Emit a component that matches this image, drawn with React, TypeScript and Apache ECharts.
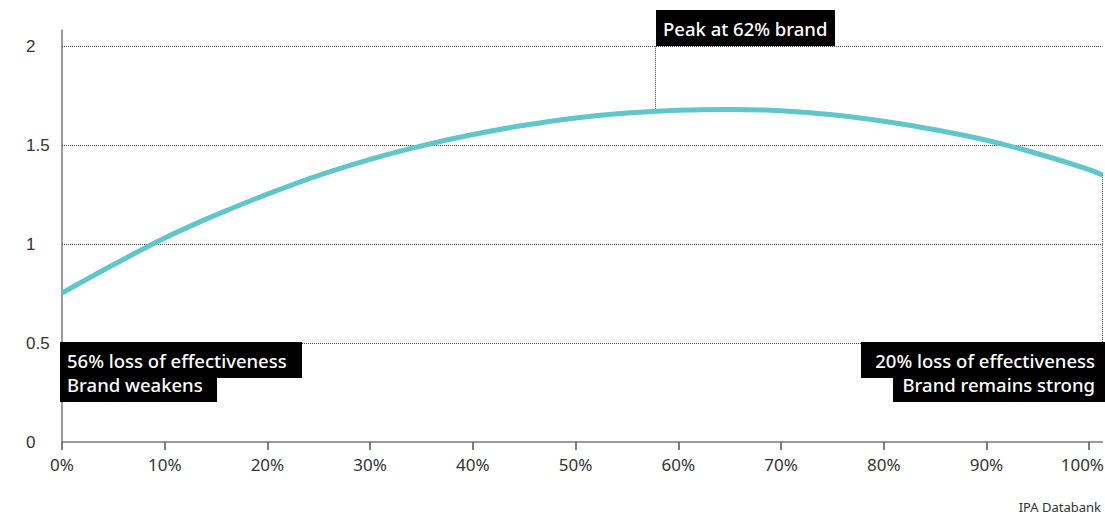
import React, { useEffect, useRef } from "react";
import * as echarts from "echarts";

// Brand share of budget (%) and relative effectiveness
const brandShare = [0, 5, 10, 15, 20, 25, 30, 35, 40, 45, 50, 55, 60, 65, 70, 75, 80, 85, 90, 95, 100, 101.3];
const effectiveness = [0.752, 0.895, 1.03, 1.147, 1.252, 1.347, 1.428, 1.496, 1.553, 1.6, 1.637, 1.662, 1.676, 1.68, 1.673, 1.653, 1.62, 1.577, 1.524, 1.456, 1.376, 1.349];

const xTicks = [0, 10, 20, 30, 40, 50, 60, 70, 80, 90, 100];
const yTicks = [0, 0.5, 1, 1.5, 2];
const gridValues = [0.5, 1, 1.5, 2];

// annotation leader lines: [x, yFrom, yTo]
const peakLeader = [57.8, 1.673, 2.0];
const endLeader = [101.3, 1.349, 0.5];

const peakText = "Peak at 62% brand";
const leftText = ["56% loss of effectiveness", "Brand weakens"];
const rightText = ["20% loss of effectiveness", "Brand remains strong"];
const sourceText = "IPA Databank";

const FONT = "'Noto Sans', sans-serif";

export default function App() {
  const ref = useRef<HTMLDivElement>(null);
  useEffect(() => {
    if (!ref.current) return;
    const chart = echarts.init(ref.current, undefined, { renderer: "svg" });
    const axisColor = "#7a7a7a";
    const leaderStyle = { type: "dotted", color: "#444", width: 1 };
    const boxFont = `500 18.5px ${FONT}`;
    const lastTick = xTicks[xTicks.length - 1];
    chart.setOption({
      animation: false,
      grid: { left: 62, right: 2.5, top: 30.2, bottom: 74, containLabel: false, outerBoundsMode: "none" },
      xAxis: {
        type: "value",
        min: 0,
        max: 101.3,
        axisLine: { show: true, lineStyle: { color: axisColor, width: 1.5 } },
        axisTick: { show: true, length: 8, customValues: xTicks, lineStyle: { color: "#555", width: 1.5 } },
        axisLabel: {
          customValues: xTicks.slice(0, -1),
          formatter: (v: number) => v + "%",
          fontSize: 17,
          color: "#333",
          margin: 14,
          fontFamily: FONT,
        },
        splitLine: { show: false },
      },
      yAxis: {
        type: "value",
        min: 0,
        max: 2.08,
        axisLine: { show: true, lineStyle: { color: axisColor, width: 1.5 } },
        axisTick: { show: false },
        axisLabel: {
          customValues: yTicks,
          align: "left",
          margin: 36,
          fontSize: 17,
          color: "#333",
          fontFamily: "'Liberation Sans', Arial, sans-serif",
        },
        splitLine: { show: false },
      },
      series: [
        {
          type: "line",
          data: brandShare.map((x, i) => [x, effectiveness[i]]),
          smooth: 0.3,
          symbol: "none",
          lineStyle: { color: "#5fc6c9", width: 5 },
          z: 3,
          markLine: {
            silent: true,
            symbol: "none",
            label: { show: false },
            lineStyle: { type: "dotted", color: "#444", width: 1 },
            z: 1,
            data: [
              ...gridValues.map((v) => ({ yAxis: v })),
              [
                { coord: [peakLeader[0], peakLeader[1]], lineStyle: leaderStyle },
                { coord: [peakLeader[0], peakLeader[2]] },
              ],
              [
                { coord: [endLeader[0], endLeader[1]], lineStyle: leaderStyle },
                { coord: [endLeader[0], endLeader[2]] },
              ],
            ],
          },
        },
      ],
      graphic: [
        { type: "rect", shape: { x: 656, y: 10, width: 179, height: 36 }, style: { fill: "#000" }, z: 10 },
        {
          type: "text",
          x: 663,
          y: 28,
          style: { text: peakText, fill: "#fff", font: boxFont, verticalAlign: "middle" },
          z: 11,
        },
        { type: "rect", shape: { x: 60, y: 342, width: 242, height: 36 }, style: { fill: "#000" }, z: 10 },
        { type: "rect", shape: { x: 60, y: 378, width: 157, height: 24 }, style: { fill: "#000" }, z: 10 },
        {
          type: "text",
          x: 67,
          y: 360.5,
          style: { text: leftText[0], fill: "#fff", font: boxFont, verticalAlign: "middle" },
          z: 11,
        },
        {
          type: "text",
          x: 67,
          y: 384,
          style: { text: leftText[1], fill: "#fff", font: boxFont, verticalAlign: "middle" },
          z: 11,
        },
        { type: "rect", shape: { x: 861, y: 342, width: 244, height: 36 }, style: { fill: "#000" }, z: 10 },
        { type: "rect", shape: { x: 893, y: 378, width: 212, height: 24 }, style: { fill: "#000" }, z: 10 },
        {
          type: "text",
          x: 1095,
          y: 360.5,
          style: { text: rightText[0], fill: "#fff", font: boxFont, align: "right", verticalAlign: "middle" },
          z: 11,
        },
        {
          type: "text",
          x: 1095,
          y: 384,
          style: { text: rightText[1], fill: "#fff", font: boxFont, align: "right", verticalAlign: "middle" },
          z: 11,
        },
        {
          type: "text",
          x: 1101,
          y: 507,
          style: { text: sourceText, fill: "#333", font: `13px ${FONT}`, align: "right", verticalAlign: "middle" },
          z: 11,
        },
      ],
    });
    // last x label, kept inside the canvas edge
    const px = chart.convertToPixel({ xAxisIndex: 0 }, lastTick) as number;
    const right = Math.min(px + 19, 1104);
    chart.setOption({
      graphic: [
        {
          id: "lastXLabel",
          type: "text",
          x: right,
          y: 456,
          style: { text: lastTick + "%", fill: "#333", font: `17px ${FONT}`, align: "right", verticalAlign: "top" },
          z: 11,
        },
      ],
    });
    return () => chart.dispose();
  }, []);
  return <div ref={ref} style={{ position: "absolute", left: 0, top: 0, width: 1105, height: 516 }} />;
}
